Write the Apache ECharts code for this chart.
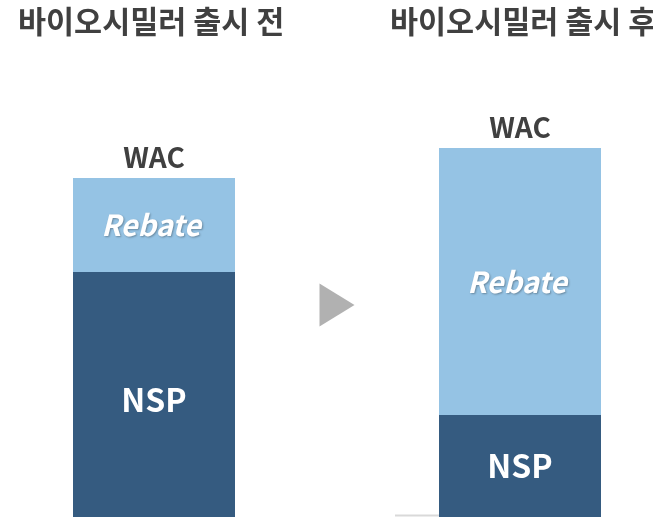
<!DOCTYPE html>
<html>
<head>
<meta charset="utf-8">
<script src="https://cdn.jsdelivr.net/npm/echarts@6/dist/echarts.min.js"></script>
<style>
  html, body { margin: 0; padding: 0; background: #fff; }
  #chart { width: 653px; height: 517px; }
</style>
</head>
<body>
<div id="chart"></div>
<script>
// 카테고리: 가운데는 화살표 자리
var categories = ['출시 전', '', '출시 후'];
var titles = ['바이오시밀러 출시 전', '바이오시밀러 출시 후'];
var nspValues = [245, null, 102];
var rebateValues = [94, null, 267];
var arrowValue = [null, 212, null];

var FONT = '"Noto Sans CJK KR", "Noto Sans", sans-serif';
var chart = echarts.init(document.getElementById('chart'));

// 왼쪽 NSP 글자만 약간 아래로
var nspData = nspValues.map(function (v, i) {
    return { value: v, label: { offset: [0, i === 0 ? 5 : 0] } };
});

var option = {
    animation: false,
    title: [
        { text: titles[0], left: 13, top: 1, textStyle: { fontFamily: FONT, fontSize: 30.5, fontWeight: 'bold', color: '#404040' } },
        { text: titles[1], left: 385, top: 1, textStyle: { fontFamily: FONT, fontSize: 30.5, fontWeight: 'bold', color: '#404040' } }
    ],
    grid: { left: 62.5, width: 549, top: 0, bottom: 0 },
    xAxis: {
        type: 'category',
        data: categories,
        axisLine: { show: false },
        axisTick: { show: false },
        axisLabel: { show: false }
    },
    yAxis: {
        type: 'value',
        min: 0,
        max: 517,
        show: false
    },
    graphic: [
        { type: 'line', shape: { x1: 395, y1: 515.5, x2: 600, y2: 515.5 }, style: { stroke: '#d9d9d9', lineWidth: 2 }, z: 0 }
    ],
    series: [
        {
            name: 'NSP',
            type: 'bar',
            stack: 'price',
            barWidth: 162,
            data: nspData,
            itemStyle: { color: '#355b80' },
            label: {
                show: true,
                position: 'inside',
                formatter: 'NSP',
                fontFamily: FONT,
                fontSize: 32,
                fontWeight: 'bold',
                color: '#fff'
            },
            z: 2
        },
        {
            name: 'Rebate',
            type: 'bar',
            stack: 'price',
            barWidth: 162,
            data: rebateValues,
            itemStyle: { color: '#95c3e4' },
            label: {
                show: true,
                position: 'inside',
                formatter: 'Rebate',
                fontFamily: FONT,
                fontSize: 29,
                fontWeight: 'bold',
                fontStyle: 'italic',
                color: '#fff',
                offset: [-3, 0],
                textShadowColor: 'rgba(0,0,0,0.3)',
                textShadowBlur: 2,
                textShadowOffsetX: 1,
                textShadowOffsetY: 1
            },
            z: 2
        },
        {
            name: 'WAC',
            type: 'bar',
            stack: 'price',
            barWidth: 162,
            data: [0, null, 0],
            itemStyle: { color: 'transparent' },
            label: {
                show: true,
                position: 'top',
                distance: 7,
                formatter: 'WAC',
                fontFamily: FONT,
                fontSize: 28,
                fontWeight: 'bold',
                color: '#404040'
            },
            z: 3
        },
        {
            name: 'arrow',
            type: 'scatter',
            data: arrowValue,
            symbol: 'triangle',
            symbolSize: [43, 35],
            symbolRotate: -90,
            itemStyle: { color: '#9e9e9e' },
            z: 4
        }
    ]
};

chart.setOption(option);
</script>
</body>
</html>
